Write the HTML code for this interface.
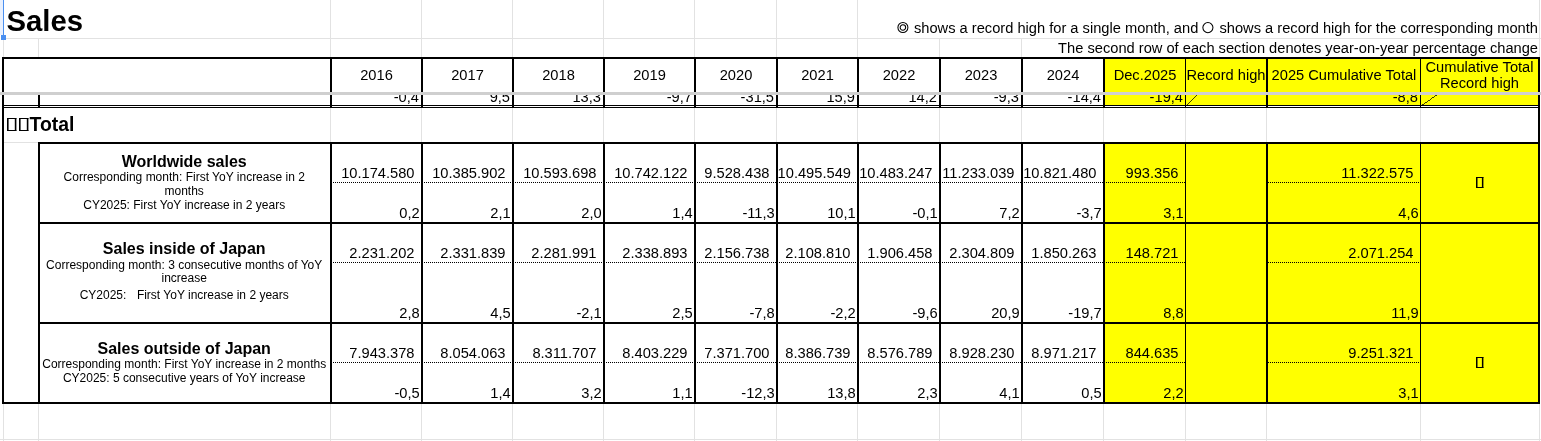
<!DOCTYPE html>
<html><head><meta charset="utf-8"><title>Sales</title><style>
html,body{margin:0;padding:0}
body{width:1541px;height:441px;position:relative;overflow:hidden;background:#fff;font-family:"Liberation Sans",sans-serif;color:#000}
.a{position:absolute}
.wrap{position:absolute;left:0;top:0;width:1541px;height:441px;background:#fff;will-change:transform;overflow:hidden}
.t{position:absolute;white-space:nowrap}
.dot{height:1px;background:repeating-linear-gradient(to right,#000 0 1px,transparent 1px 2px)}
.cc{display:inline-block;vertical-align:baseline;overflow:visible;fill:none;stroke:#000;stroke-width:1.05}
.tf{display:inline-block;box-sizing:border-box;width:9px;height:13px;border:1px solid #222;margin:0 3px 0 1px;vertical-align:baseline}
</style></head><body>
<div class="wrap">
<div class="a" style="left:330px;top:0px;width:1px;height:38px;background:#e2e2e2"></div>
<div class="a" style="left:421px;top:0px;width:1px;height:38px;background:#e2e2e2"></div>
<div class="a" style="left:512px;top:0px;width:1px;height:38px;background:#e2e2e2"></div>
<div class="a" style="left:603px;top:0px;width:1px;height:38px;background:#e2e2e2"></div>
<div class="a" style="left:694px;top:0px;width:1px;height:38px;background:#e2e2e2"></div>
<div class="a" style="left:776px;top:0px;width:1px;height:38px;background:#e2e2e2"></div>
<div class="a" style="left:857px;top:0px;width:1px;height:38px;background:#e2e2e2"></div>
<div class="a" style="left:1539px;top:0px;width:1px;height:57px;background:#e2e2e2"></div>
<div class="a" style="left:6px;top:38px;width:1535px;height:1px;background:#e2e2e2"></div>
<div class="a" style="left:3px;top:38px;width:1px;height:19px;background:#e2e2e2"></div>
<div class="a" style="left:38px;top:38px;width:1px;height:19px;background:#e2e2e2"></div>
<div class="a" style="left:330px;top:38px;width:1px;height:19px;background:#e2e2e2"></div>
<div class="a" style="left:421px;top:38px;width:1px;height:19px;background:#e2e2e2"></div>
<div class="a" style="left:512px;top:38px;width:1px;height:19px;background:#e2e2e2"></div>
<div class="a" style="left:603px;top:38px;width:1px;height:19px;background:#e2e2e2"></div>
<div class="a" style="left:694px;top:38px;width:1px;height:19px;background:#e2e2e2"></div>
<div class="a" style="left:776px;top:38px;width:1px;height:19px;background:#e2e2e2"></div>
<div class="a" style="left:857px;top:38px;width:1px;height:19px;background:#e2e2e2"></div>
<div class="a" style="left:939px;top:38px;width:1px;height:19px;background:#e2e2e2"></div>
<div class="a" style="left:1021px;top:38px;width:1px;height:19px;background:#e2e2e2"></div>
<div class="a" style="left:3px;top:41px;width:1px;height:16px;background:#e2e2e2"></div>
<div class="a" style="left:330px;top:108px;width:1px;height:34px;background:#e2e2e2"></div>
<div class="a" style="left:421px;top:108px;width:1px;height:34px;background:#e2e2e2"></div>
<div class="a" style="left:512px;top:108px;width:1px;height:34px;background:#e2e2e2"></div>
<div class="a" style="left:603px;top:108px;width:1px;height:34px;background:#e2e2e2"></div>
<div class="a" style="left:694px;top:108px;width:1px;height:34px;background:#e2e2e2"></div>
<div class="a" style="left:776px;top:108px;width:1px;height:34px;background:#e2e2e2"></div>
<div class="a" style="left:857px;top:108px;width:1px;height:34px;background:#e2e2e2"></div>
<div class="a" style="left:939px;top:108px;width:1px;height:34px;background:#e2e2e2"></div>
<div class="a" style="left:1021px;top:108px;width:1px;height:34px;background:#e2e2e2"></div>
<div class="a" style="left:1103px;top:108px;width:1px;height:34px;background:#e2e2e2"></div>
<div class="a" style="left:1185px;top:108px;width:1px;height:34px;background:#e2e2e2"></div>
<div class="a" style="left:1266px;top:108px;width:1px;height:34px;background:#e2e2e2"></div>
<div class="a" style="left:1420px;top:108px;width:1px;height:34px;background:#e2e2e2"></div>
<div class="a" style="left:4px;top:142px;width:34px;height:1px;background:#e2e2e2"></div>
<div class="a" style="left:3px;top:404px;width:1px;height:37px;background:#e2e2e2"></div>
<div class="a" style="left:38px;top:404px;width:1px;height:37px;background:#e2e2e2"></div>
<div class="a" style="left:330px;top:404px;width:1px;height:37px;background:#e2e2e2"></div>
<div class="a" style="left:421px;top:404px;width:1px;height:37px;background:#e2e2e2"></div>
<div class="a" style="left:512px;top:404px;width:1px;height:37px;background:#e2e2e2"></div>
<div class="a" style="left:603px;top:404px;width:1px;height:37px;background:#e2e2e2"></div>
<div class="a" style="left:694px;top:404px;width:1px;height:37px;background:#e2e2e2"></div>
<div class="a" style="left:776px;top:404px;width:1px;height:37px;background:#e2e2e2"></div>
<div class="a" style="left:857px;top:404px;width:1px;height:37px;background:#e2e2e2"></div>
<div class="a" style="left:939px;top:404px;width:1px;height:37px;background:#e2e2e2"></div>
<div class="a" style="left:1021px;top:404px;width:1px;height:37px;background:#e2e2e2"></div>
<div class="a" style="left:1103px;top:404px;width:1px;height:37px;background:#e2e2e2"></div>
<div class="a" style="left:1185px;top:404px;width:1px;height:37px;background:#e2e2e2"></div>
<div class="a" style="left:1266px;top:404px;width:1px;height:37px;background:#e2e2e2"></div>
<div class="a" style="left:1420px;top:404px;width:1px;height:37px;background:#e2e2e2"></div>
<div class="a" style="left:1539px;top:404px;width:1px;height:37px;background:#e2e2e2"></div>
<div class="a" style="left:0px;top:439px;width:1541px;height:1px;background:#e2e2e2"></div>
<div class="a" style="left:0px;top:0px;width:3px;height:35px;background:#e8f0fe"></div>
<div class="a" style="left:3px;top:0px;width:1px;height:35px;background:#4a8ff0"></div>
<div class="a" style="left:1px;top:35px;width:5px;height:5px;background:#4a8ff0"></div>
<div class="a" style="left:1105px;top:59px;width:433px;height:33px;background:#ffff00"></div>
<div class="a" style="left:1105px;top:95px;width:433px;height:10px;background:#ffff00"></div>
<div class="a" style="left:1105px;top:144px;width:433px;height:78px;background:#ffff00"></div>
<div class="a" style="left:1105px;top:224px;width:433px;height:98px;background:#ffff00"></div>
<div class="a" style="left:1105px;top:324px;width:433px;height:78px;background:#ffff00"></div>
<div class="a" style="left:2px;top:57px;width:1538px;height:2px;background:#000"></div>
<div class="a" style="left:2px;top:57px;width:2px;height:347px;background:#000"></div>
<div class="a" style="left:1538px;top:57px;width:2px;height:347px;background:#000"></div>
<div class="a" style="left:330px;top:59px;width:2px;height:49px;background:#000"></div>
<div class="a" style="left:421px;top:59px;width:2px;height:49px;background:#000"></div>
<div class="a" style="left:512px;top:59px;width:2px;height:49px;background:#000"></div>
<div class="a" style="left:603px;top:59px;width:2px;height:49px;background:#000"></div>
<div class="a" style="left:694px;top:59px;width:2px;height:49px;background:#000"></div>
<div class="a" style="left:776px;top:59px;width:2px;height:49px;background:#000"></div>
<div class="a" style="left:857px;top:59px;width:2px;height:49px;background:#000"></div>
<div class="a" style="left:939px;top:59px;width:2px;height:49px;background:#000"></div>
<div class="a" style="left:1021px;top:59px;width:2px;height:49px;background:#000"></div>
<div class="a" style="left:1103px;top:59px;width:2px;height:49px;background:#000"></div>
<div class="a" style="left:1185px;top:59px;width:1px;height:49px;background:#000"></div>
<div class="a" style="left:1266px;top:59px;width:2px;height:49px;background:#000"></div>
<div class="a" style="left:1420px;top:59px;width:1px;height:49px;background:#000"></div>
<div class="a" style="left:38px;top:95px;width:2px;height:13px;background:#000"></div>
<div class="a" style="left:4px;top:105px;width:1534px;height:1px;background:#000"></div>
<div class="a" style="left:4px;top:107px;width:1534px;height:1px;background:#000"></div>
<div class="a" style="left:38px;top:142px;width:1502px;height:2px;background:#000"></div>
<div class="a" style="left:38px;top:222px;width:1502px;height:2px;background:#000"></div>
<div class="a" style="left:38px;top:322px;width:1502px;height:2px;background:#000"></div>
<div class="a" style="left:38px;top:142px;width:2px;height:82px;background:#000"></div>
<div class="a" style="left:330px;top:142px;width:2px;height:82px;background:#000"></div>
<div class="a" style="left:421px;top:142px;width:2px;height:82px;background:#000"></div>
<div class="a" style="left:512px;top:142px;width:2px;height:82px;background:#000"></div>
<div class="a" style="left:603px;top:142px;width:2px;height:82px;background:#000"></div>
<div class="a" style="left:694px;top:142px;width:2px;height:82px;background:#000"></div>
<div class="a" style="left:776px;top:142px;width:2px;height:82px;background:#000"></div>
<div class="a" style="left:857px;top:142px;width:2px;height:82px;background:#000"></div>
<div class="a" style="left:939px;top:142px;width:2px;height:82px;background:#000"></div>
<div class="a" style="left:1021px;top:142px;width:2px;height:82px;background:#000"></div>
<div class="a" style="left:1103px;top:142px;width:2px;height:82px;background:#000"></div>
<div class="a" style="left:1185px;top:142px;width:1px;height:82px;background:#000"></div>
<div class="a" style="left:1266px;top:142px;width:2px;height:82px;background:#000"></div>
<div class="a" style="left:1420px;top:142px;width:1px;height:82px;background:#000"></div>
<div class="a" style="left:38px;top:222px;width:2px;height:102px;background:#000"></div>
<div class="a" style="left:330px;top:222px;width:2px;height:102px;background:#000"></div>
<div class="a" style="left:421px;top:222px;width:2px;height:102px;background:#000"></div>
<div class="a" style="left:512px;top:222px;width:2px;height:102px;background:#000"></div>
<div class="a" style="left:603px;top:222px;width:2px;height:102px;background:#000"></div>
<div class="a" style="left:694px;top:222px;width:2px;height:102px;background:#000"></div>
<div class="a" style="left:776px;top:222px;width:2px;height:102px;background:#000"></div>
<div class="a" style="left:857px;top:222px;width:2px;height:102px;background:#000"></div>
<div class="a" style="left:939px;top:222px;width:2px;height:102px;background:#000"></div>
<div class="a" style="left:1021px;top:222px;width:2px;height:102px;background:#000"></div>
<div class="a" style="left:1103px;top:222px;width:2px;height:102px;background:#000"></div>
<div class="a" style="left:1185px;top:222px;width:1px;height:102px;background:#000"></div>
<div class="a" style="left:1266px;top:222px;width:2px;height:102px;background:#000"></div>
<div class="a" style="left:1420px;top:222px;width:1px;height:102px;background:#000"></div>
<div class="a" style="left:38px;top:322px;width:2px;height:82px;background:#000"></div>
<div class="a" style="left:330px;top:322px;width:2px;height:82px;background:#000"></div>
<div class="a" style="left:421px;top:322px;width:2px;height:82px;background:#000"></div>
<div class="a" style="left:512px;top:322px;width:2px;height:82px;background:#000"></div>
<div class="a" style="left:603px;top:322px;width:2px;height:82px;background:#000"></div>
<div class="a" style="left:694px;top:322px;width:2px;height:82px;background:#000"></div>
<div class="a" style="left:776px;top:322px;width:2px;height:82px;background:#000"></div>
<div class="a" style="left:857px;top:322px;width:2px;height:82px;background:#000"></div>
<div class="a" style="left:939px;top:322px;width:2px;height:82px;background:#000"></div>
<div class="a" style="left:1021px;top:322px;width:2px;height:82px;background:#000"></div>
<div class="a" style="left:1103px;top:322px;width:2px;height:82px;background:#000"></div>
<div class="a" style="left:1185px;top:322px;width:1px;height:82px;background:#000"></div>
<div class="a" style="left:1266px;top:322px;width:2px;height:82px;background:#000"></div>
<div class="a" style="left:1420px;top:322px;width:1px;height:82px;background:#000"></div>
<div class="a" style="left:2px;top:402px;width:1538px;height:2px;background:#000"></div>
<div class="a dot" style="left:333px;top:182px;width:88px;"></div>
<div class="a dot" style="left:424px;top:182px;width:88px;"></div>
<div class="a dot" style="left:515px;top:182px;width:88px;"></div>
<div class="a dot" style="left:606px;top:182px;width:88px;"></div>
<div class="a dot" style="left:697px;top:182px;width:79px;"></div>
<div class="a dot" style="left:779px;top:182px;width:78px;"></div>
<div class="a dot" style="left:860px;top:182px;width:79px;"></div>
<div class="a dot" style="left:942px;top:182px;width:79px;"></div>
<div class="a dot" style="left:1024px;top:182px;width:79px;"></div>
<div class="a dot" style="left:1106px;top:182px;width:79px;"></div>
<div class="a dot" style="left:1268px;top:182px;width:152px;"></div>
<div class="a dot" style="left:333px;top:262px;width:88px;"></div>
<div class="a dot" style="left:424px;top:262px;width:88px;"></div>
<div class="a dot" style="left:515px;top:262px;width:88px;"></div>
<div class="a dot" style="left:606px;top:262px;width:88px;"></div>
<div class="a dot" style="left:697px;top:262px;width:79px;"></div>
<div class="a dot" style="left:779px;top:262px;width:78px;"></div>
<div class="a dot" style="left:860px;top:262px;width:79px;"></div>
<div class="a dot" style="left:942px;top:262px;width:79px;"></div>
<div class="a dot" style="left:1024px;top:262px;width:79px;"></div>
<div class="a dot" style="left:1106px;top:262px;width:79px;"></div>
<div class="a dot" style="left:1268px;top:262px;width:152px;"></div>
<div class="a dot" style="left:333px;top:362px;width:88px;"></div>
<div class="a dot" style="left:424px;top:362px;width:88px;"></div>
<div class="a dot" style="left:515px;top:362px;width:88px;"></div>
<div class="a dot" style="left:606px;top:362px;width:88px;"></div>
<div class="a dot" style="left:697px;top:362px;width:79px;"></div>
<div class="a dot" style="left:779px;top:362px;width:78px;"></div>
<div class="a dot" style="left:860px;top:362px;width:79px;"></div>
<div class="a dot" style="left:942px;top:362px;width:79px;"></div>
<div class="a dot" style="left:1024px;top:362px;width:79px;"></div>
<div class="a dot" style="left:1106px;top:362px;width:79px;"></div>
<div class="a dot" style="left:1268px;top:362px;width:152px;"></div>
<div class="a" style="left:0px;top:92px;width:1541px;height:3px;background:#cfcfcf"></div>
<div class="t" style="top:6.00px;font-size:29.3px;line-height:29.3px;font-weight:bold;left:6.50px;">Sales</div>
<div class="t" style="top:21.00px;font-size:14.67px;line-height:14.67px;right:3.00px;text-align:right;"><svg class="cc" width="14" height="4"><circle cx="6.9" cy="-1.5" r="5.0"/><circle cx="6.9" cy="-1.5" r="2.75"/></svg> shows a record high for a single month, and <svg class="cc" width="13" height="4"><circle cx="5.9" cy="-1.4" r="5.05"/></svg> shows a record high for the corresponding month</div>
<div class="t" style="top:41.00px;font-size:14.67px;line-height:14.67px;right:3.00px;text-align:right;">The second row of each section denotes year-on-year percentage change</div>
<div class="t" style="top:68.00px;font-size:14.67px;line-height:14.67px;left:-23.50px;width:800px;text-align:center;">2016</div>
<div class="t" style="top:68.00px;font-size:14.67px;line-height:14.67px;left:67.50px;width:800px;text-align:center;">2017</div>
<div class="t" style="top:68.00px;font-size:14.67px;line-height:14.67px;left:158.50px;width:800px;text-align:center;">2018</div>
<div class="t" style="top:68.00px;font-size:14.67px;line-height:14.67px;left:249.50px;width:800px;text-align:center;">2019</div>
<div class="t" style="top:68.00px;font-size:14.67px;line-height:14.67px;left:336.00px;width:800px;text-align:center;">2020</div>
<div class="t" style="top:68.00px;font-size:14.67px;line-height:14.67px;left:417.50px;width:800px;text-align:center;">2021</div>
<div class="t" style="top:68.00px;font-size:14.67px;line-height:14.67px;left:499.00px;width:800px;text-align:center;">2022</div>
<div class="t" style="top:68.00px;font-size:14.67px;line-height:14.67px;left:581.00px;width:800px;text-align:center;">2023</div>
<div class="t" style="top:68.00px;font-size:14.67px;line-height:14.67px;left:663.00px;width:800px;text-align:center;">2024</div>
<div class="t" style="top:68.00px;font-size:14.67px;line-height:14.67px;left:745.00px;width:800px;text-align:center;">Dec.2025</div>
<div class="t" style="top:68.00px;font-size:14.67px;line-height:14.67px;left:826.00px;width:800px;text-align:center;">Record high</div>
<div class="t" style="top:68.00px;font-size:14.67px;line-height:14.67px;left:944.00px;width:800px;text-align:center;">2025 Cumulative Total</div>
<div class="t" style="top:60.00px;font-size:14.67px;line-height:14.67px;left:1079.50px;width:800px;text-align:center;">Cumulative Total</div>
<div class="t" style="top:76.00px;font-size:14.67px;line-height:14.67px;left:1079.50px;width:800px;text-align:center;">Record high</div>
<div class="a" style="left:0;top:95px;width:1541px;height:10px;overflow:hidden">
<div class="t" style="top:-5.00px;right:1122.00px;text-align:right;font-size:14.67px;line-height:14.67px">-0,4</div>
<div class="t" style="top:-5.00px;right:1031.00px;text-align:right;font-size:14.67px;line-height:14.67px">9,5</div>
<div class="t" style="top:-5.00px;right:940.00px;text-align:right;font-size:14.67px;line-height:14.67px">13,3</div>
<div class="t" style="top:-5.00px;right:849.00px;text-align:right;font-size:14.67px;line-height:14.67px">-9,7</div>
<div class="t" style="top:-5.00px;right:767.00px;text-align:right;font-size:14.67px;line-height:14.67px">-31,5</div>
<div class="t" style="top:-5.00px;right:686.00px;text-align:right;font-size:14.67px;line-height:14.67px">15,9</div>
<div class="t" style="top:-5.00px;right:604.00px;text-align:right;font-size:14.67px;line-height:14.67px">14,2</div>
<div class="t" style="top:-5.00px;right:522.00px;text-align:right;font-size:14.67px;line-height:14.67px">-9,3</div>
<div class="t" style="top:-5.00px;right:440.00px;text-align:right;font-size:14.67px;line-height:14.67px">-14,4</div>
<div class="t" style="top:-5.00px;right:358.00px;text-align:right;font-size:14.67px;line-height:14.67px">-19,4</div>
<div class="t" style="top:-5.00px;right:123.00px;text-align:right;font-size:14.67px;line-height:14.67px">-8,8</div>
<svg class="a" style="left:0;top:-95px" width="1541" height="441"><g stroke="#000" shape-rendering="crispEdges"><line x1="1186.5" y1="105.5" x2="1266.5" y2="25.5" stroke-width="0.75"/><line x1="1421.5" y1="105.5" x2="1538.5" y2="25.5" stroke-width="0.75"/></g></svg>
</div>
<svg class="a" style="left:7.3px;top:118px;overflow:visible" width="9.4" height="13"><path d="M0.8 0V13M8.6 0V13" stroke="#000" stroke-width="1.6" fill="none"/><path d="M0 0.5H9.4M0 12.5H9.4" stroke="#000" stroke-width="1.0" fill="none"/></svg>
<svg class="a" style="left:19.4px;top:118px;overflow:visible" width="9.4" height="13"><path d="M0.8 0V13M8.6 0V13" stroke="#000" stroke-width="1.6" fill="none"/><path d="M0 0.5H9.4M0 12.5H9.4" stroke="#000" stroke-width="1.0" fill="none"/></svg>
<div class="t" style="top:115.00px;font-size:19.4px;line-height:19.4px;font-weight:bold;left:29.60px;">Total</div>
<div class="t" style="top:154.00px;font-size:16.0px;line-height:16.0px;font-weight:bold;left:-215.80px;width:800px;text-align:center;">Worldwide sales</div>
<div class="t" style="top:171.00px;font-size:12px;line-height:12px;left:-215.80px;width:800px;text-align:center;">Corresponding month: First YoY increase in 2</div>
<div class="t" style="top:185.00px;font-size:12px;line-height:12px;left:-215.80px;width:800px;text-align:center;">months</div>
<div class="t" style="top:199.00px;font-size:12px;line-height:12px;left:-215.80px;width:800px;text-align:center;">CY2025: First YoY increase in 2 years</div>
<div class="t" style="top:241.00px;font-size:16.0px;line-height:16.0px;font-weight:bold;left:-215.80px;width:800px;text-align:center;">Sales inside of Japan</div>
<div class="t" style="top:259.00px;font-size:12px;line-height:12px;left:-215.80px;width:800px;text-align:center;">Corresponding month: 3 consecutive months of YoY</div>
<div class="t" style="top:272.00px;font-size:12px;line-height:12px;left:-215.80px;width:800px;text-align:center;">increase</div>
<div class="t" style="top:289.00px;font-size:12px;line-height:12px;left:-215.80px;width:800px;text-align:center;">CY2025:<span style="display:inline-block;width:10.5px"></span>First YoY increase in 2 years</div>
<div class="t" style="top:341.00px;font-size:16.0px;line-height:16.0px;font-weight:bold;left:-215.80px;width:800px;text-align:center;">Sales outside of Japan</div>
<div class="t" style="top:358.00px;font-size:12px;line-height:12px;left:-215.80px;width:800px;text-align:center;">Corresponding month: First YoY increase in 2 months</div>
<div class="t" style="top:372.00px;font-size:12px;line-height:12px;left:-215.80px;width:800px;text-align:center;">CY2025: 5 consecutive years of YoY increase</div>
<div class="t" style="top:166.00px;font-size:14.67px;line-height:14.67px;right:1126.50px;text-align:right;">10.174.580</div>
<div class="t" style="top:166.00px;font-size:14.67px;line-height:14.67px;right:1035.50px;text-align:right;">10.385.902</div>
<div class="t" style="top:166.00px;font-size:14.67px;line-height:14.67px;right:944.50px;text-align:right;">10.593.698</div>
<div class="t" style="top:166.00px;font-size:14.67px;line-height:14.67px;right:853.50px;text-align:right;">10.742.122</div>
<div class="t" style="top:166.00px;font-size:14.67px;line-height:14.67px;right:771.50px;text-align:right;">9.528.438</div>
<div class="t" style="top:166.00px;font-size:14.67px;line-height:14.67px;left:777.60px;">10.495.549</div>
<div class="t" style="top:166.00px;font-size:14.67px;line-height:14.67px;right:608.50px;text-align:right;">10.483.247</div>
<div class="t" style="top:166.00px;font-size:14.67px;line-height:14.67px;right:526.50px;text-align:right;">11.233.039</div>
<div class="t" style="top:166.00px;font-size:14.67px;line-height:14.67px;right:444.50px;text-align:right;">10.821.480</div>
<div class="t" style="top:166.00px;font-size:14.67px;line-height:14.67px;right:362.50px;text-align:right;">993.356</div>
<div class="t" style="top:166.00px;font-size:14.67px;line-height:14.67px;right:127.50px;text-align:right;">11.322.575</div>
<div class="t" style="top:206.00px;font-size:14.67px;line-height:14.67px;right:1121.30px;text-align:right;">0,2</div>
<div class="t" style="top:206.00px;font-size:14.67px;line-height:14.67px;right:1030.30px;text-align:right;">2,1</div>
<div class="t" style="top:206.00px;font-size:14.67px;line-height:14.67px;right:939.30px;text-align:right;">2,0</div>
<div class="t" style="top:206.00px;font-size:14.67px;line-height:14.67px;right:848.30px;text-align:right;">1,4</div>
<div class="t" style="top:206.00px;font-size:14.67px;line-height:14.67px;right:766.30px;text-align:right;">-11,3</div>
<div class="t" style="top:206.00px;font-size:14.67px;line-height:14.67px;right:685.30px;text-align:right;">10,1</div>
<div class="t" style="top:206.00px;font-size:14.67px;line-height:14.67px;right:603.30px;text-align:right;">-0,1</div>
<div class="t" style="top:206.00px;font-size:14.67px;line-height:14.67px;right:521.30px;text-align:right;">7,2</div>
<div class="t" style="top:206.00px;font-size:14.67px;line-height:14.67px;right:439.30px;text-align:right;">-3,7</div>
<div class="t" style="top:206.00px;font-size:14.67px;line-height:14.67px;right:357.30px;text-align:right;">3,1</div>
<div class="t" style="top:206.00px;font-size:14.67px;line-height:14.67px;right:122.30px;text-align:right;">4,6</div>
<svg class="a" style="left:1476px;top:177px;overflow:visible" width="7.4" height="11"><path d="M0.75 0V11M6.65 0V11" stroke="#000" stroke-width="1.5" fill="none"/><path d="M0 0.5H7.4M0 10.5H7.4" stroke="#000" stroke-width="1.0" fill="none"/></svg>
<div class="t" style="top:246.00px;font-size:14.67px;line-height:14.67px;right:1126.50px;text-align:right;">2.231.202</div>
<div class="t" style="top:246.00px;font-size:14.67px;line-height:14.67px;right:1035.50px;text-align:right;">2.331.839</div>
<div class="t" style="top:246.00px;font-size:14.67px;line-height:14.67px;right:944.50px;text-align:right;">2.281.991</div>
<div class="t" style="top:246.00px;font-size:14.67px;line-height:14.67px;right:853.50px;text-align:right;">2.338.893</div>
<div class="t" style="top:246.00px;font-size:14.67px;line-height:14.67px;right:771.50px;text-align:right;">2.156.738</div>
<div class="t" style="top:246.00px;font-size:14.67px;line-height:14.67px;right:690.50px;text-align:right;">2.108.810</div>
<div class="t" style="top:246.00px;font-size:14.67px;line-height:14.67px;right:608.50px;text-align:right;">1.906.458</div>
<div class="t" style="top:246.00px;font-size:14.67px;line-height:14.67px;right:526.50px;text-align:right;">2.304.809</div>
<div class="t" style="top:246.00px;font-size:14.67px;line-height:14.67px;right:444.50px;text-align:right;">1.850.263</div>
<div class="t" style="top:246.00px;font-size:14.67px;line-height:14.67px;right:362.50px;text-align:right;">148.721</div>
<div class="t" style="top:246.00px;font-size:14.67px;line-height:14.67px;right:127.50px;text-align:right;">2.071.254</div>
<div class="t" style="top:306.00px;font-size:14.67px;line-height:14.67px;right:1121.30px;text-align:right;">2,8</div>
<div class="t" style="top:306.00px;font-size:14.67px;line-height:14.67px;right:1030.30px;text-align:right;">4,5</div>
<div class="t" style="top:306.00px;font-size:14.67px;line-height:14.67px;right:939.30px;text-align:right;">-2,1</div>
<div class="t" style="top:306.00px;font-size:14.67px;line-height:14.67px;right:848.30px;text-align:right;">2,5</div>
<div class="t" style="top:306.00px;font-size:14.67px;line-height:14.67px;right:766.30px;text-align:right;">-7,8</div>
<div class="t" style="top:306.00px;font-size:14.67px;line-height:14.67px;right:685.30px;text-align:right;">-2,2</div>
<div class="t" style="top:306.00px;font-size:14.67px;line-height:14.67px;right:603.30px;text-align:right;">-9,6</div>
<div class="t" style="top:306.00px;font-size:14.67px;line-height:14.67px;right:521.30px;text-align:right;">20,9</div>
<div class="t" style="top:306.00px;font-size:14.67px;line-height:14.67px;right:439.30px;text-align:right;">-19,7</div>
<div class="t" style="top:306.00px;font-size:14.67px;line-height:14.67px;right:357.30px;text-align:right;">8,8</div>
<div class="t" style="top:306.00px;font-size:14.67px;line-height:14.67px;right:122.30px;text-align:right;">11,9</div>
<div class="t" style="top:346.00px;font-size:14.67px;line-height:14.67px;right:1126.50px;text-align:right;">7.943.378</div>
<div class="t" style="top:346.00px;font-size:14.67px;line-height:14.67px;right:1035.50px;text-align:right;">8.054.063</div>
<div class="t" style="top:346.00px;font-size:14.67px;line-height:14.67px;right:944.50px;text-align:right;">8.311.707</div>
<div class="t" style="top:346.00px;font-size:14.67px;line-height:14.67px;right:853.50px;text-align:right;">8.403.229</div>
<div class="t" style="top:346.00px;font-size:14.67px;line-height:14.67px;right:771.50px;text-align:right;">7.371.700</div>
<div class="t" style="top:346.00px;font-size:14.67px;line-height:14.67px;right:690.50px;text-align:right;">8.386.739</div>
<div class="t" style="top:346.00px;font-size:14.67px;line-height:14.67px;right:608.50px;text-align:right;">8.576.789</div>
<div class="t" style="top:346.00px;font-size:14.67px;line-height:14.67px;right:526.50px;text-align:right;">8.928.230</div>
<div class="t" style="top:346.00px;font-size:14.67px;line-height:14.67px;right:444.50px;text-align:right;">8.971.217</div>
<div class="t" style="top:346.00px;font-size:14.67px;line-height:14.67px;right:362.50px;text-align:right;">844.635</div>
<div class="t" style="top:346.00px;font-size:14.67px;line-height:14.67px;right:127.50px;text-align:right;">9.251.321</div>
<div class="t" style="top:386.00px;font-size:14.67px;line-height:14.67px;right:1121.30px;text-align:right;">-0,5</div>
<div class="t" style="top:386.00px;font-size:14.67px;line-height:14.67px;right:1030.30px;text-align:right;">1,4</div>
<div class="t" style="top:386.00px;font-size:14.67px;line-height:14.67px;right:939.30px;text-align:right;">3,2</div>
<div class="t" style="top:386.00px;font-size:14.67px;line-height:14.67px;right:848.30px;text-align:right;">1,1</div>
<div class="t" style="top:386.00px;font-size:14.67px;line-height:14.67px;right:766.30px;text-align:right;">-12,3</div>
<div class="t" style="top:386.00px;font-size:14.67px;line-height:14.67px;right:685.30px;text-align:right;">13,8</div>
<div class="t" style="top:386.00px;font-size:14.67px;line-height:14.67px;right:603.30px;text-align:right;">2,3</div>
<div class="t" style="top:386.00px;font-size:14.67px;line-height:14.67px;right:521.30px;text-align:right;">4,1</div>
<div class="t" style="top:386.00px;font-size:14.67px;line-height:14.67px;right:439.30px;text-align:right;">0,5</div>
<div class="t" style="top:386.00px;font-size:14.67px;line-height:14.67px;right:357.30px;text-align:right;">2,2</div>
<div class="t" style="top:386.00px;font-size:14.67px;line-height:14.67px;right:122.30px;text-align:right;">3,1</div>
<svg class="a" style="left:1476px;top:357px;overflow:visible" width="7.4" height="11"><path d="M0.75 0V11M6.65 0V11" stroke="#000" stroke-width="1.5" fill="none"/><path d="M0 0.5H7.4M0 10.5H7.4" stroke="#000" stroke-width="1.0" fill="none"/></svg>
</div></body></html>
